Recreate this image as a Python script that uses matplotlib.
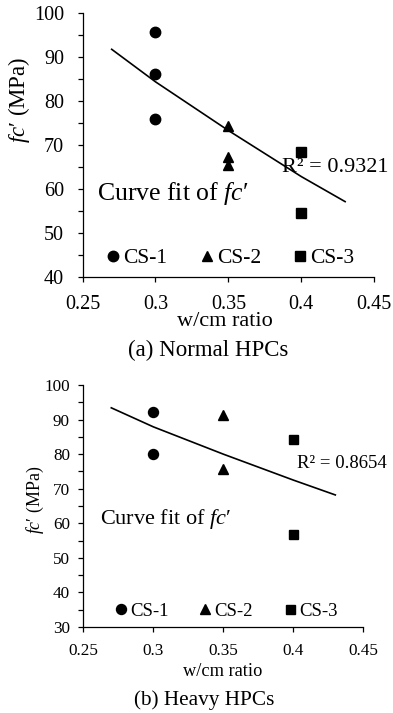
import matplotlib
matplotlib.use("Agg")
import matplotlib.pyplot as plt
from matplotlib.ticker import MultipleLocator

plt.rcParams['font.family'] = ['Liberation Serif', 'DejaVu Serif']
plt.rcParams['mathtext.fontset'] = 'custom'
plt.rcParams['mathtext.rm'] = 'Liberation Serif'
plt.rcParams['mathtext.it'] = 'Liberation Serif:italic'

# ---- data: (a) Normal HPCs ----
a_cs1_x = [0.30, 0.30, 0.30]
a_cs1_y = [95.7, 86.2, 75.9]
a_cs2_x = [0.35, 0.35, 0.35]
a_cs2_y = [74.4, 67.3, 65.4]
a_cs3_x = [0.40, 0.40]
a_cs3_y = [68.5, 54.4]
a_fit_x = [0.27, 0.30, 0.35, 0.40, 0.43]
a_fit_y = [91.8, 84.4, 73.3, 62.8, 57.1]
a_r2 = "R² = 0.9321"

# ---- data: (b) Heavy HPCs ----
b_cs1_x = [0.30, 0.30]
b_cs1_y = [92.2, 80.0]
b_cs2_x = [0.35, 0.35]
b_cs2_y = [91.3, 75.7]
b_cs3_x = [0.40, 0.40]
b_cs3_y = [84.3, 56.9]
b_fit_x = [0.27, 0.30, 0.35, 0.40, 0.43]
b_fit_y = [93.4, 87.9, 80.0, 72.5, 68.2]
b_r2 = "R² = 0.8654"

series_labels = ["CS-1", "CS-2", "CS-3"]
x_ticks = [0.25, 0.30, 0.35, 0.40, 0.45]
x_tick_labels = ["0.25", "0.3", "0.35", "0.4", "0.45"]

FC = "$\\mathit{fc\u2032}$"

W, H = 393, 713
fig = plt.figure(figsize=(W / 100, H / 100), dpi=100)


def px_box(l, r, t, b):
    return [l / W, 1 - b / H, (r - l) / W, (b - t) / H]


def panel(ax, cs1, cs2, cs3, fit, r2, ylim, fs_tick, fs_r2, fs_cf, fs_leg, xpad, ypad,
          ms, r2pos, cfpos, leg_anchor, hpad, colsp):
    ax.plot(fit[0], fit[1], color='black', lw=1.2, zorder=2)
    h1, = ax.plot(cs1[0], cs1[1], 'o', color='black', ms=ms, ls='none', zorder=3)
    h2, = ax.plot(cs2[0], cs2[1], '^', color='black', ms=ms, ls='none', zorder=3)
    h3, = ax.plot(cs3[0], cs3[1], 's', color='black', ms=ms * 0.9, ls='none', zorder=3)
    ax.set_xlim(0.25, 0.45)
    ax.set_ylim(*ylim)
    ax.set_xticks(x_ticks)
    ax.set_xticklabels(x_tick_labels)
    ax.yaxis.set_major_locator(MultipleLocator(10))
    ax.yaxis.set_minor_locator(MultipleLocator(5))
    for s in ('top', 'right'):
        ax.spines[s].set_visible(False)
    for s in ('left', 'bottom'):
        ax.spines[s].set_linewidth(0.9)
    ax.tick_params(axis='both', which='both', direction='out', length=3.6, width=0.9,
                   labelsize=fs_tick)
    ax.tick_params(axis='x', which='both', pad=xpad)
    ax.tick_params(axis='y', which='both', pad=ypad)
    ax.text(r2pos[0], r2pos[1], r2, fontsize=fs_r2, va='baseline', ha='left',
            clip_on=False)
    ax.text(cfpos[0], cfpos[1], "Curve fit of " + FC, fontsize=fs_cf,
            va='baseline', ha='left')
    ax.legend([h1, h2, h3], series_labels, ncol=3, frameon=False, fontsize=fs_leg,
              loc='center left', bbox_to_anchor=leg_anchor, bbox_transform=ax.transData,
              handlelength=0.6, handletextpad=hpad, columnspacing=colsp,
              borderpad=0, borderaxespad=0, markerscale=1.0)


ax1 = fig.add_axes(px_box(82.5, 374.3, 13.3, 276.7))
panel(ax1, (a_cs1_x, a_cs1_y), (a_cs2_x, a_cs2_y), (a_cs3_x, a_cs3_y),
      (a_fit_x, a_fit_y), a_r2, (40, 100), 14.5, 16, 18.5, 15.5, 9.6, 9.6, 7.5,
      (0.3869, 63.9), (0.2602, 57.5), (0.2665, 44.2), 0.17, 1.53)
fig.text(225 / W, 1 - 321.7 / H, "w/cm ratio", fontsize=16, ha='center', va='center')
fig.text(19 / W, 1 - 100 / H, FC + " (MPa)", fontsize=16.4,
         rotation=90, ha='center', va='center')
fig.text(208.5 / W, 1 - 350 / H, "(a) Normal HPCs", fontsize=16.5,
         ha='center', va='center')

ax2 = fig.add_axes(px_box(83.3, 363.3, 385, 627))
panel(ax2, (b_cs1_x, b_cs1_y), (b_cs2_x, b_cs2_y), (b_cs3_x, b_cs3_y),
      (b_fit_x, b_fit_y), b_r2, (30, 100), 12.3, 13.5, 16, 13.5, 8, 6, 7.2,
      (0.4024, 75.9), (0.2616, 59.8), (0.2727, 34.6), 0.2, 1.65)
fig.text(222.5 / W, 1 - 671.7 / H, "w/cm ratio", fontsize=13.2, ha='center', va='center')
fig.text(35 / W, 1 - 500 / H, FC + " (MPa)", fontsize=12.9,
         rotation=90, ha='center', va='center')
fig.text(204 / W, 1 - 700 / H, "(b) Heavy HPCs", fontsize=15.3,
         ha='center', va='center')

fig.savefig("out.png", dpi=100)
